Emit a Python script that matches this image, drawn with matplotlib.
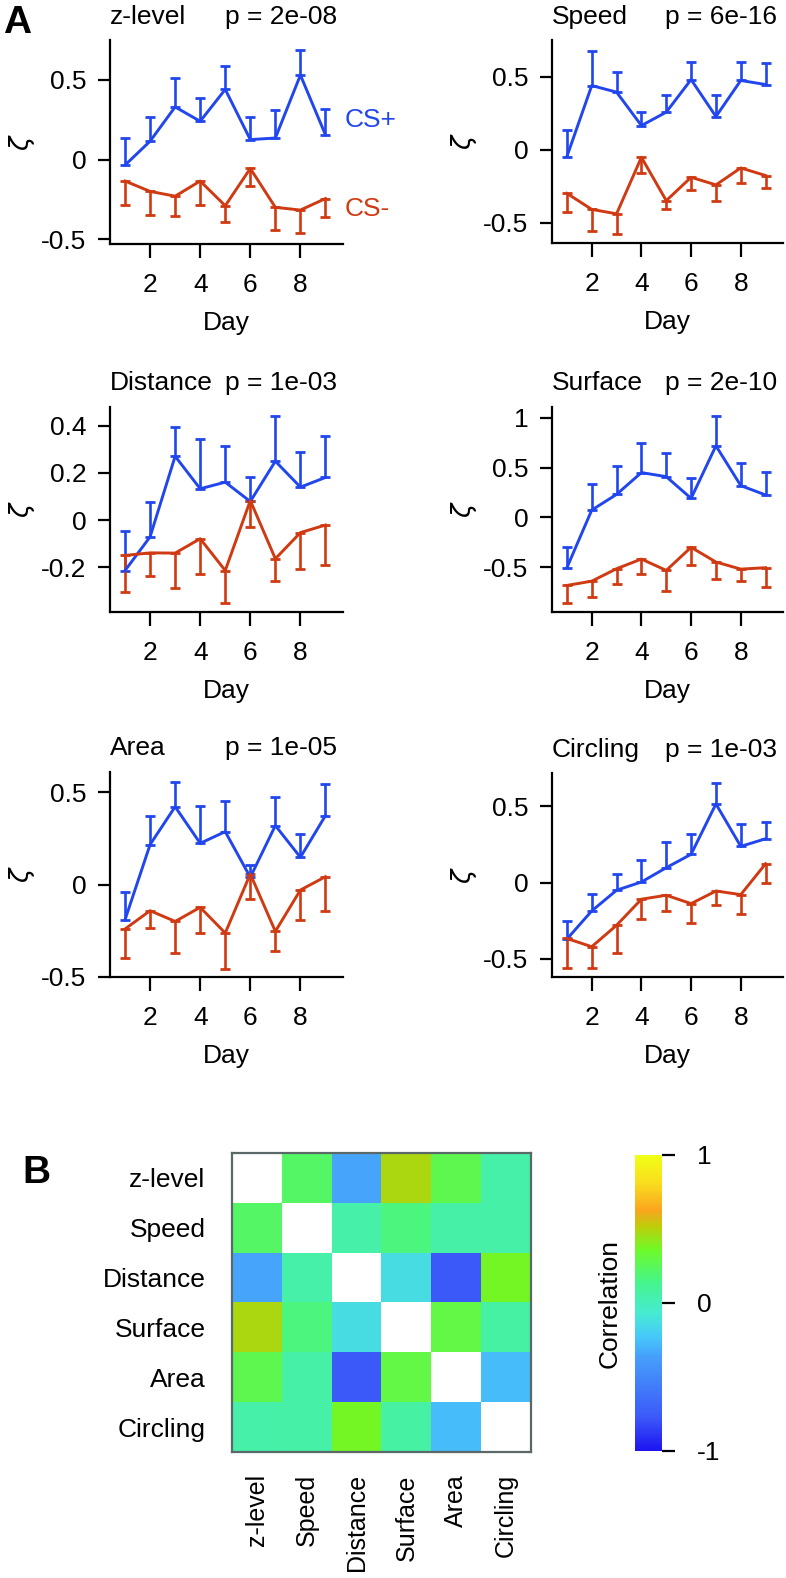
import numpy as np
import matplotlib
matplotlib.use('Agg')
import matplotlib.pyplot as plt
from matplotlib import ticker
from matplotlib.colors import LinearSegmentedColormap

plt.rcParams['font.family'] = ['Liberation Sans', 'DejaVu Sans']
plt.rcParams['axes.unicode_minus'] = False

# ---- data ----
days = [1, 2, 3, 4, 5, 6, 7, 8, 9]

zlevel_csp = [-0.035, 0.115, 0.33, 0.24, 0.44, 0.125, 0.135, 0.53, 0.155]
zlevel_csp_err = [0.17, 0.155, 0.18, 0.145, 0.15, 0.142, 0.175, 0.16, 0.165]
zlevel_csm = [-0.135, -0.2, -0.23, -0.135, -0.29, -0.056, -0.30, -0.317, -0.245]
zlevel_csm_err = [0.15, 0.145, 0.125, 0.15, 0.10, 0.11, 0.145, 0.143, 0.115]

speed_csp = [-0.048, 0.438, 0.393, 0.164, 0.256, 0.479, 0.226, 0.473, 0.445]
speed_csp_err = [0.183, 0.24, 0.137, 0.092, 0.114, 0.119, 0.148, 0.125, 0.146]
speed_csm = [-0.30, -0.41, -0.44, -0.053, -0.35, -0.19, -0.242, -0.126, -0.178]
speed_csm_err = [0.13, 0.145, 0.138, 0.109, 0.056, 0.086, 0.108, 0.104, 0.087]

distance_csp = [-0.214, -0.071, 0.271, 0.133, 0.161, 0.079, 0.25, 0.14, 0.181]
distance_csp_err = [0.168, 0.147, 0.125, 0.21, 0.153, 0.102, 0.193, 0.15, 0.175]
distance_csm = [-0.15, -0.139, -0.14, -0.079, -0.214, 0.083, -0.164, -0.053, -0.021]
distance_csm_err = [0.157, 0.10, 0.15, 0.15, 0.139, 0.112, 0.096, 0.154, 0.169]

surface_csp = [-0.505, 0.074, 0.232, 0.451, 0.41, 0.192, 0.72, 0.32, 0.226]
surface_csp_err = [0.209, 0.263, 0.29, 0.296, 0.236, 0.208, 0.297, 0.225, 0.229]
surface_csm = [-0.683, -0.64, -0.515, -0.418, -0.532, -0.30, -0.448, -0.519, -0.505]
surface_csm_err = [0.179, 0.16, 0.158, 0.154, 0.209, 0.181, 0.168, 0.121, 0.189]

area_csp = [-0.19, 0.217, 0.422, 0.224, 0.287, 0.04, 0.32, 0.148, 0.374]
area_csp_err = [0.148, 0.157, 0.132, 0.204, 0.168, 0.066, 0.153, 0.126, 0.171]
area_csm = [-0.24, -0.141, -0.199, -0.123, -0.262, 0.058, -0.253, -0.029, 0.043]
area_csm_err = [0.159, 0.094, 0.171, 0.139, 0.195, 0.136, 0.108, 0.161, 0.184]

circling_csp = [-0.371, -0.186, -0.05, 0.004, 0.098, 0.186, 0.517, 0.238, 0.288]
circling_csp_err = [0.12, 0.114, 0.105, 0.147, 0.168, 0.135, 0.138, 0.148, 0.109]
circling_csm = [-0.367, -0.421, -0.28, -0.109, -0.083, -0.138, -0.055, -0.079, 0.124]
circling_csm_err = [0.192, 0.142, 0.185, 0.133, 0.103, 0.126, 0.093, 0.124, 0.124]

p_values = ['2e-08', '6e-16', '1e-03', '2e-10', '1e-05', '1e-03']
features = ['z-level', 'Speed', 'Distance', 'Surface', 'Area', 'Circling']

nan = np.nan
corr = [
    [nan, 0.22, -0.34, 0.48, 0.27, 0.05],
    [0.22, nan, 0.05, 0.17, 0.06, 0.06],
    [-0.34, 0.05, nan, -0.14, -0.77, 0.37],
    [0.48, 0.17, -0.14, nan, 0.29, 0.07],
    [0.27, 0.06, -0.77, 0.29, nan, -0.26],
    [0.05, 0.06, 0.37, 0.07, -0.26, nan],
]

# ---- style ----
W, H = 786, 1578
blue = '#2146ee'
red = '#d03a12'
fs = 19


def px_rect(x0, y0, x1, y1):
    return [x0 / W, 1 - y1 / H, (x1 - x0) / W, (y1 - y0) / H]


fig = plt.figure(figsize=(W / 100, H / 100), dpi=100)

panels = [
    (zlevel_csp, zlevel_csp_err, zlevel_csm, zlevel_csm_err, (-0.53, 0.75), [-0.5, 0, 0.5], (110, 40, 343, 244)),
    (speed_csp, speed_csp_err, speed_csm, speed_csm_err, (-0.64, 0.75), [-0.5, 0, 0.5], (552, 40, 783, 243)),
    (distance_csp, distance_csp_err, distance_csm, distance_csm_err, (-0.39, 0.48), [-0.2, 0, 0.2, 0.4], (110, 407, 343, 612)),
    (surface_csp, surface_csp_err, surface_csm, surface_csm_err, (-0.95, 1.11), [-0.5, 0, 0.5, 1], (552, 407, 783, 612)),
    (area_csp, area_csp_err, area_csm, area_csm_err, (-0.5, 0.61), [-0.5, 0, 0.5], (110, 772, 343, 977)),
    (circling_csp, circling_csp_err, circling_csm, circling_csm_err, (-0.62, 0.72), [-0.5, 0, 0.5], (552, 773, 783, 977)),
]

for i, (csp, csp_err, csm, csm_err, ylim, yticks, box) in enumerate(panels):
    ax = fig.add_axes(px_rect(*box))
    zeros = np.zeros(len(days))
    ax.errorbar(days, csp, yerr=[zeros, csp_err], color=blue, lw=2.1,
                elinewidth=1.9, capsize=3.8, capthick=2.0)
    ax.errorbar(days, csm, yerr=[csm_err, zeros], color=red, lw=2.1,
                elinewidth=1.9, capsize=3.8, capthick=2.0)
    ax.set_xlim(0.4, 9.7)
    ax.set_ylim(*ylim)
    ax.set_xticks([2, 4, 6, 8])
    ax.set_yticks(yticks)
    ax.yaxis.set_major_formatter(ticker.FormatStrFormatter('%g'))
    for s in ['top', 'right']:
        ax.spines[s].set_visible(False)
    for s in ['left', 'bottom']:
        ax.spines[s].set_linewidth(1.6)
    ax.tick_params(axis='x', length=10, width=1.6, pad=11, labelsize=fs)
    ax.tick_params(axis='y', length=9, width=1.6, pad=8, labelsize=fs)
    ax.set_xlabel('Day', fontsize=fs, labelpad=10)
    ax.set_ylabel(r'$\zeta$', fontsize=fs, rotation=90)
    ax.yaxis.set_label_coords(-0.315, 0.5)
    ax.text(0.0, 1.115, features[i], transform=ax.transAxes, ha='left',
            va='center', fontsize=fs)
    ax.text(0.975, 1.115, 'p = ' + p_values[i], transform=ax.transAxes,
            ha='right', va='center', fontsize=fs)
    if i == 0:
        ax.text(9.78, 0.25, 'CS+', color=blue, fontsize=fs, va='center', ha='left')
        ax.text(9.78, -0.31, 'CS-', color=red, fontsize=fs, va='center', ha='left')

fig.text(17 / W, 1 - 23 / H, 'A', fontsize=28, fontweight='bold', ha='center', va='center')
fig.text(36 / W, 1 - 1173 / H, 'B', fontsize=28, fontweight='bold', ha='center', va='center')

# ---- correlation matrix ----
cm_vals = [-1, -0.77, -0.36, -0.23, -0.07, 0.14, 0.36, 0.52, 0.63, 0.81, 1]
cm_cols = [(30, 20, 240), (60, 90, 250), (70, 160, 250), (70, 200, 250), (70, 235, 210),
           (70, 245, 140), (110, 250, 40), (190, 205, 10), (250, 165, 30), (250, 220, 30),
           (240, 255, 20)]
cmap = LinearSegmentedColormap.from_list(
    'corr', [((v + 1) / 2, tuple(c / 255 for c in col)) for v, col in zip(cm_vals, cm_cols)])
cmap.set_bad('white')

axh = fig.add_axes(px_rect(232, 1153, 531, 1452))
im = axh.imshow(np.ma.masked_invalid(np.array(corr)), cmap=cmap, vmin=-1, vmax=1,
                aspect='auto', interpolation='nearest')
axh.set_xticks(range(len(features)))
axh.set_yticks(range(len(features)))
axh.set_xticklabels(features, rotation=90, fontsize=18)
axh.set_yticklabels(features, fontsize=fs)
axh.tick_params(axis='x', length=0, pad=16)
axh.tick_params(axis='y', length=0, pad=19)
for s in axh.spines.values():
    s.set_color('#5b6868')
    s.set_linewidth(1.6)

cax = fig.add_axes(px_rect(635, 1155, 662, 1451))
cb = fig.colorbar(im, cax=cax, ticks=[-1, 0, 1])
cb.outline.set_visible(False)
cb.ax.set_yticklabels(['-1', '0', '1'])
cax.tick_params(length=9, width=1.6, pad=16, labelsize=fs)
cb.set_label('Correlation', fontsize=fs)
cax.yaxis.set_label_position('left')
cax.yaxis.set_label_coords(-0.48, 0.5)

fig.savefig('out.png', dpi=100)
